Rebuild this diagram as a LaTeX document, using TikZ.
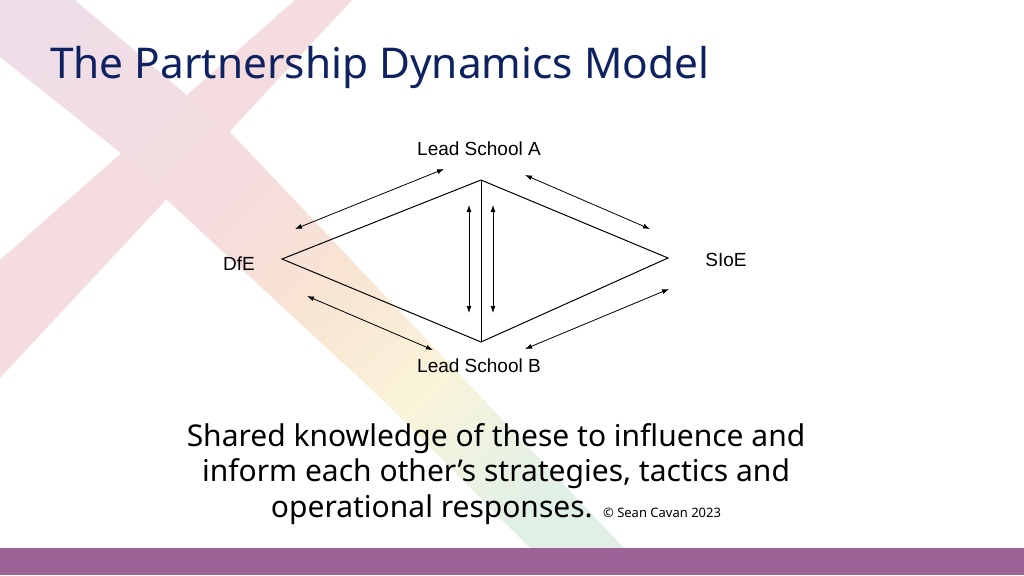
\documentclass[tikz,border=0pt]{standalone}
\usepackage{fontspec}
\setmainfont{Noto Sans}
\newfontfamily\labelfont{Liberation Sans}
\usepackage{tikz}
\usetikzlibrary{positioning,arrows.meta}
\usepackage{xcolor}

\definecolor{titleblue}{RGB}{14,34,98}
\definecolor{barpurple}{RGB}{158,99,150}
\definecolor{xpink}{RGB}{245,220,222}
\definecolor{xlav}{RGB}{238,222,232}
\definecolor{xpeach}{RGB}{248,228,210}
\definecolor{xyellow}{RGB}{250,244,218}
\definecolor{xgreen}{RGB}{224,240,231}

\pgfdeclareverticalshading{xstroke}{100bp}{color(0bp)=(xgreen); color(22bp)=(xgreen); color(36bp)=(xyellow); color(48bp)=(xpeach); color(60bp)=(xpink); color(82bp)=(xlav); color(100bp)=(xlav)}

\tikzset{
  edge/.style={black,line width=1pt},
  arr/.style={black,line width=0.8pt,{Latex[length=7pt,width=5pt]}-{Latex[length=7pt,width=5pt]}},
  lbl/.style={font=\labelfont\fontsize{19}{22}\selectfont,anchor=base,inner sep=0pt}
}

\begin{document}
\begin{tikzpicture}[x=1pt,y=-1pt]
\useasboundingbox (0,0) rectangle (1024,575);
\fill[white] (0,0) rectangle (1024,575);

% the pastel cross behind
\fill[xpink] (0,260) -- (295,0) -- (352,0) -- (0,378) -- cycle;
\shade[shading=xstroke,shading angle=45] (0,57) -- (117,150) -- (167,200) -- (383,400) -- (530,548) -- (624,548) -- (230,132) -- (183,92) -- (75,0) -- (0,0) -- cycle;

\fill[barpurple] (0,548) rectangle (1024,575);

\node[anchor=base west,inner sep=0pt,text=titleblue,font=\fontsize{42.4}{48}\selectfont] (title) at (50,79) {The Partnership Dynamics Model};

\coordinate (lsa) at (481,180);
\coordinate (lsb) at (481,342);
\coordinate (dfe) at (282,259);
\coordinate (sioe) at (668,258);

\draw[edge] (dfe) -- (lsa) -- (sioe) -- (lsb) -- cycle;
\draw[edge] (lsa) -- (lsb);

\coordinate (a1) at (295,229);
\coordinate (a2) at (444,169);
\coordinate (b1) at (525,175);
\coordinate (b2) at (650,229);
\coordinate (c1) at (307,296);
\coordinate (c2) at (433,350);
\coordinate (d1) at (525,349);
\coordinate (d2) at (669,289);
\coordinate (v1) at (469,205);
\coordinate (v2) at (469,313);
\coordinate (w1) at (493,205);
\coordinate (w2) at (493,313);

\draw[arr] (a1) -- (a2);
\draw[arr] (b1) -- (b2);
\draw[arr] (c1) -- (c2);
\draw[arr] (d1) -- (d2);
\draw[arr] (v1) -- (v2);
\draw[arr] (w1) -- (w2);

\node[lbl] (lblA) at (479,155) {Lead School A};
\node[lbl] (lblB) at (479,372) {Lead School B};
\node[lbl] (lblD) at (239,270) {DfE};
\node[lbl] (lblS) at (726,266) {SIoE};

\node[anchor=base,align=center,inner sep=0pt,font=\fontsize{30}{35.5}\selectfont] (msg) at (496,517)
  {Shared knowledge of these to influence and\\inform each other’s strategies, tactics and\\operational responses. {\fontsize{13}{14}\selectfont © Sean Cavan 2023}};
\end{tikzpicture}
\end{document}
